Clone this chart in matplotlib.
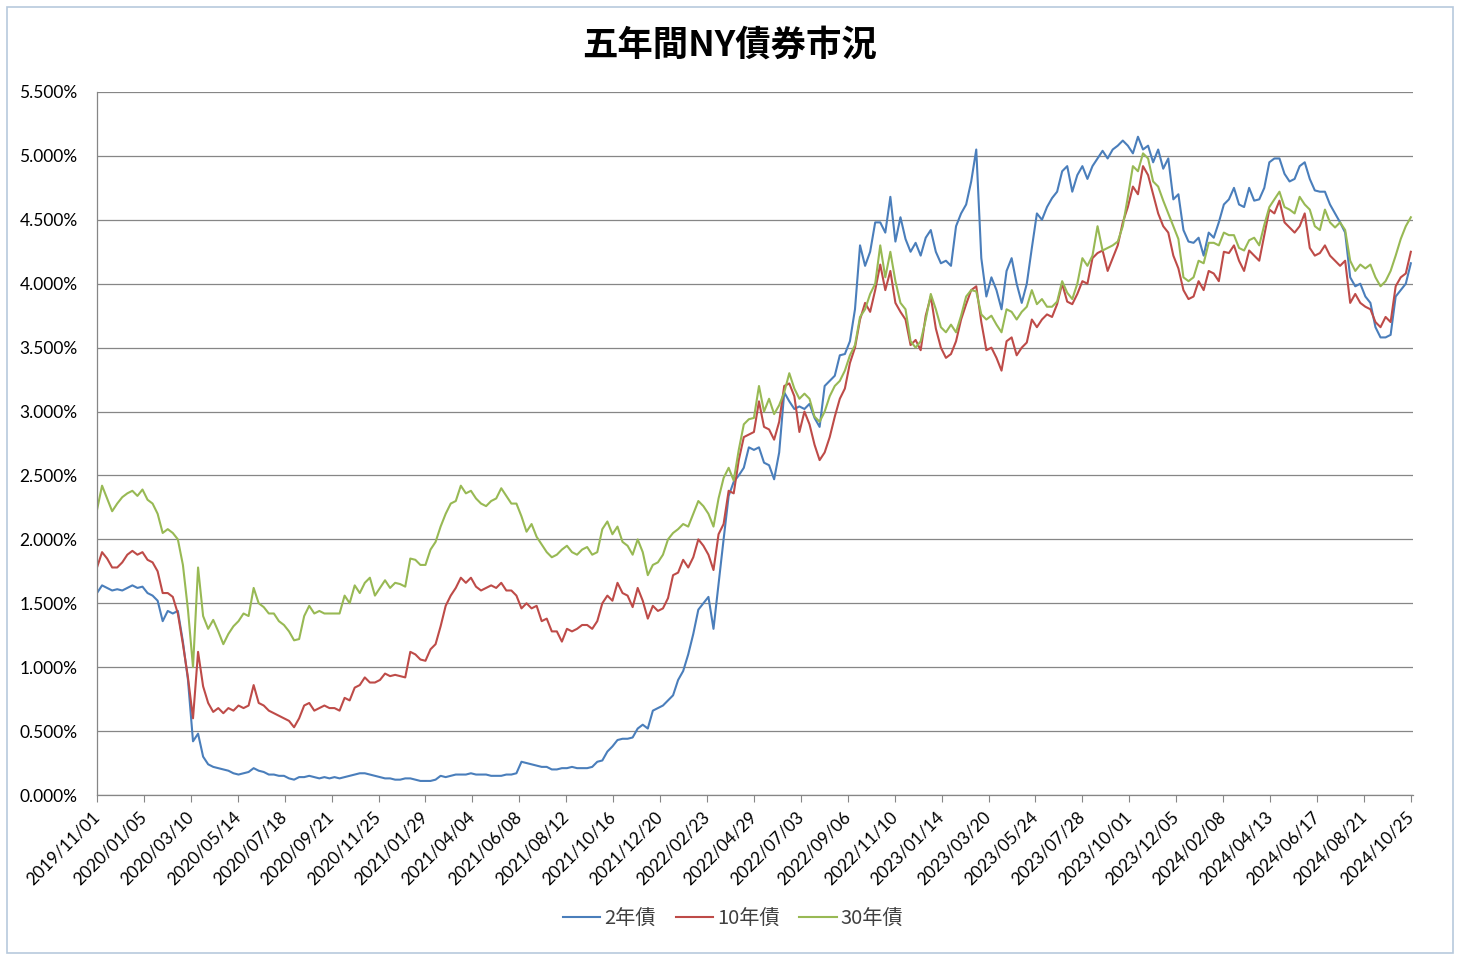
import numpy as np
import pandas as pd
import matplotlib
matplotlib.use("Agg")
import matplotlib.pyplot as plt
import matplotlib.dates as mdates
from matplotlib.ticker import MultipleLocator, FuncFormatter
from matplotlib.patches import Rectangle

##
## Data (weekly readings, % yield)
##
start_date = "2019-11-01"
title_text = "五年間NY債券市況"
series_names = ["2年債", "10年債", "30年債"]

yield_2y = [
    1.58, 1.64, 1.62, 1.60, 1.61, 1.60, 1.62, 1.64, 1.62, 1.63,
    1.58, 1.56, 1.52, 1.36, 1.44, 1.42, 1.44, 1.20, 0.90, 0.42,
    0.48, 0.30, 0.24, 0.22, 0.21, 0.20, 0.19, 0.17, 0.16, 0.17,
    0.18, 0.21, 0.19, 0.18, 0.16, 0.16, 0.15, 0.15, 0.13, 0.12,
    0.14, 0.14, 0.15, 0.14, 0.13, 0.14, 0.13, 0.14, 0.13, 0.14,
    0.15, 0.16, 0.17, 0.17, 0.16, 0.15, 0.14, 0.13, 0.13, 0.12,
    0.12, 0.13, 0.13, 0.12, 0.11, 0.11, 0.11, 0.12, 0.15, 0.14,
    0.15, 0.16, 0.16, 0.16, 0.17, 0.16, 0.16, 0.16, 0.15, 0.15,
    0.15, 0.16, 0.16, 0.17, 0.26, 0.25, 0.24, 0.23, 0.22, 0.22,
    0.20, 0.20, 0.21, 0.21, 0.22, 0.21, 0.21, 0.21, 0.22, 0.26,
    0.27, 0.34, 0.38, 0.43, 0.44, 0.44, 0.45, 0.52, 0.55, 0.52,
    0.66, 0.68, 0.70, 0.74, 0.78, 0.90, 0.97, 1.10, 1.26, 1.45,
    1.50, 1.55, 1.30, 1.65, 2.00, 2.34, 2.45, 2.50, 2.56, 2.72,
    2.70, 2.72, 2.60, 2.58, 2.47, 2.68, 3.15, 3.08, 3.02, 3.04,
    3.02, 3.06, 2.95, 2.88, 3.20, 3.24, 3.28, 3.44, 3.45, 3.55,
    3.80, 4.30, 4.14, 4.25, 4.48, 4.48, 4.40, 4.68, 4.33, 4.52,
    4.35, 4.25, 4.32, 4.22, 4.36, 4.42, 4.25, 4.16, 4.18, 4.14,
    4.45, 4.55, 4.62, 4.80, 5.05, 4.20, 3.90, 4.05, 3.95, 3.80,
    4.10, 4.20, 4.00, 3.85, 4.00, 4.28, 4.55, 4.50, 4.60, 4.67,
    4.72, 4.88, 4.92, 4.72, 4.85, 4.92, 4.82, 4.92, 4.98, 5.04,
    4.98, 5.05, 5.08, 5.12, 5.08, 5.02, 5.15, 5.05, 5.08, 4.95,
    5.05, 4.90, 4.98, 4.66, 4.70, 4.42, 4.33, 4.32, 4.36, 4.22,
    4.40, 4.36, 4.48, 4.62, 4.66, 4.75, 4.62, 4.60, 4.75, 4.65,
    4.66, 4.75, 4.95, 4.98, 4.98, 4.86, 4.80, 4.82, 4.92, 4.95,
    4.82, 4.73, 4.72, 4.72, 4.62, 4.55, 4.48, 4.40, 4.05, 3.98,
    4.00, 3.90, 3.85, 3.66, 3.58, 3.58, 3.60, 3.90, 3.95, 4.00,
    4.16,
]

yield_10y = [
    1.78, 1.90, 1.85, 1.78, 1.78, 1.82, 1.88, 1.91, 1.88, 1.90,
    1.84, 1.82, 1.75, 1.58, 1.58, 1.55, 1.42, 1.18, 0.92, 0.60,
    1.12, 0.85, 0.72, 0.65, 0.68, 0.64, 0.68, 0.66, 0.70, 0.68,
    0.70, 0.86, 0.72, 0.70, 0.66, 0.64, 0.62, 0.60, 0.58, 0.53,
    0.60, 0.70, 0.72, 0.66, 0.68, 0.70, 0.68, 0.68, 0.66, 0.76,
    0.74, 0.84, 0.86, 0.92, 0.88, 0.88, 0.90, 0.95, 0.93, 0.94,
    0.93, 0.92, 1.12, 1.10, 1.06, 1.05, 1.14, 1.18, 1.32, 1.48,
    1.56, 1.62, 1.70, 1.66, 1.70, 1.63, 1.60, 1.62, 1.64, 1.62,
    1.66, 1.60, 1.60, 1.56, 1.46, 1.50, 1.46, 1.48, 1.36, 1.38,
    1.28, 1.28, 1.20, 1.30, 1.28, 1.30, 1.33, 1.33, 1.30, 1.36,
    1.50, 1.56, 1.52, 1.66, 1.58, 1.56, 1.47, 1.62, 1.52, 1.38,
    1.48, 1.44, 1.46, 1.54, 1.72, 1.74, 1.84, 1.78, 1.86, 2.00,
    1.95, 1.88, 1.76, 2.04, 2.12, 2.38, 2.36, 2.62, 2.80, 2.82,
    2.84, 3.08, 2.88, 2.86, 2.78, 2.92, 3.20, 3.22, 3.12, 2.84,
    3.00, 2.90, 2.74, 2.62, 2.68, 2.80, 2.96, 3.10, 3.18, 3.38,
    3.50, 3.72, 3.85, 3.78, 3.95, 4.15, 3.95, 4.10, 3.85, 3.78,
    3.72, 3.52, 3.56, 3.48, 3.75, 3.90, 3.65, 3.50, 3.42, 3.45,
    3.55, 3.72, 3.84, 3.95, 3.98, 3.70, 3.48, 3.50, 3.42, 3.32,
    3.55, 3.58, 3.44, 3.50, 3.54, 3.72, 3.66, 3.72, 3.76, 3.74,
    3.84, 4.00, 3.86, 3.84, 3.92, 4.02, 4.00, 4.20, 4.24, 4.26,
    4.10, 4.20, 4.30, 4.48, 4.60, 4.76, 4.70, 4.92, 4.85, 4.70,
    4.55, 4.45, 4.40, 4.22, 4.12, 3.95, 3.88, 3.90, 4.02, 3.95,
    4.10, 4.08, 4.02, 4.25, 4.24, 4.30, 4.18, 4.10, 4.26, 4.22,
    4.18, 4.38, 4.58, 4.55, 4.65, 4.48, 4.44, 4.40, 4.45, 4.55,
    4.28, 4.22, 4.24, 4.30, 4.22, 4.18, 4.14, 4.18, 3.85, 3.92,
    3.85, 3.82, 3.80, 3.70, 3.66, 3.74, 3.70, 3.98, 4.05, 4.08,
    4.25,
]

yield_30y = [
    2.23, 2.42, 2.32, 2.22, 2.28, 2.33, 2.36, 2.38, 2.34, 2.39,
    2.31, 2.28, 2.20, 2.05, 2.08, 2.05, 2.00, 1.80, 1.45, 1.00,
    1.78, 1.40, 1.30, 1.37, 1.28, 1.18, 1.26, 1.32, 1.36, 1.42,
    1.40, 1.62, 1.50, 1.47, 1.42, 1.42, 1.36, 1.33, 1.28, 1.21,
    1.22, 1.40, 1.48, 1.42, 1.44, 1.42, 1.42, 1.42, 1.42, 1.56,
    1.50, 1.64, 1.58, 1.66, 1.70, 1.56, 1.62, 1.68, 1.62, 1.66,
    1.65, 1.63, 1.85, 1.84, 1.80, 1.80, 1.92, 1.98, 2.10, 2.20,
    2.28, 2.30, 2.42, 2.36, 2.38, 2.32, 2.28, 2.26, 2.30, 2.32,
    2.40, 2.34, 2.28, 2.28, 2.18, 2.06, 2.12, 2.02, 1.96, 1.90,
    1.86, 1.88, 1.92, 1.95, 1.90, 1.88, 1.92, 1.94, 1.88, 1.90,
    2.08, 2.14, 2.04, 2.10, 1.98, 1.95, 1.88, 2.00, 1.90, 1.72,
    1.80, 1.82, 1.88, 2.00, 2.05, 2.08, 2.12, 2.10, 2.20, 2.30,
    2.26, 2.20, 2.10, 2.32, 2.48, 2.56, 2.46, 2.70, 2.90, 2.94,
    2.95, 3.20, 3.00, 3.10, 2.98, 3.05, 3.15, 3.30, 3.18, 3.10,
    3.14, 3.10, 2.96, 2.92, 3.00, 3.12, 3.20, 3.24, 3.32, 3.44,
    3.52, 3.74, 3.80, 3.92, 4.00, 4.30, 4.05, 4.25, 4.02, 3.85,
    3.80, 3.55, 3.50, 3.55, 3.72, 3.92, 3.80, 3.66, 3.62, 3.68,
    3.62, 3.75, 3.90, 3.95, 3.94, 3.76, 3.72, 3.75, 3.68, 3.62,
    3.80, 3.78, 3.72, 3.78, 3.82, 3.95, 3.84, 3.88, 3.82, 3.82,
    3.86, 4.02, 3.93, 3.88, 4.00, 4.20, 4.14, 4.22, 4.45, 4.26,
    4.28, 4.30, 4.33, 4.45, 4.68, 4.92, 4.88, 5.02, 4.98, 4.80,
    4.76, 4.65, 4.55, 4.45, 4.35, 4.05, 4.02, 4.05, 4.18, 4.16,
    4.32, 4.32, 4.30, 4.40, 4.38, 4.38, 4.28, 4.26, 4.34, 4.36,
    4.30, 4.46, 4.60, 4.66, 4.72, 4.60, 4.58, 4.55, 4.68, 4.62,
    4.58, 4.45, 4.42, 4.58, 4.48, 4.44, 4.48, 4.42, 4.18, 4.10,
    4.15, 4.12, 4.15, 4.05, 3.98, 4.02, 4.10, 4.22, 4.35, 4.45,
    4.52,
]

colors = ["#4A7EBB", "#BE4B48", "#98B954"]

dates = pd.date_range(start_date, periods=len(yield_2y), freq="7D")
tick_dates = pd.date_range(start_date, periods=29, freq="65D")

plt.rcParams["font.family"] = ["Lato", "Noto Sans CJK JP", "DejaVu Sans"]

fig = plt.figure(figsize=(14.6, 9.6), dpi=100)
ax = fig.add_axes([97 / 1460, 1 - 795 / 960, (1413 - 97) / 1460, (795 - 92) / 960])

for vals, name, c in zip([yield_2y, yield_10y, yield_30y], series_names, colors):
    ax.plot(dates, vals, color=c, lw=1.5, label=name)

ax.set_ylim(0, 5.5)
ax.yaxis.set_major_locator(MultipleLocator(0.5))
ax.yaxis.set_major_formatter(FuncFormatter(lambda v, p: "%.3f%%" % v))
ax.grid(axis="y", color="#868686", lw=0.9)
ax.set_axisbelow(True)

ax.set_xlim(tick_dates[0], tick_dates[-1] + pd.Timedelta(days=3))
ax.set_xticks(tick_dates)
ax.xaxis.set_major_formatter(mdates.DateFormatter("%Y/%m/%d"))
plt.setp(ax.get_xticklabels(), rotation=45, ha="right", va="center",
         rotation_mode="anchor", fontsize=12.5)
ax.tick_params(axis="x", length=5, color="#868686", pad=9)
ax.tick_params(axis="y", length=0, pad=14, labelsize=12.5)

for s in ["top", "right"]:
    ax.spines[s].set_visible(False)
for s in ["left", "bottom"]:
    ax.spines[s].set_color("#868686")
    ax.spines[s].set_linewidth(0.9)

fig.text(730 / 1460, 1 - 45 / 960, title_text, ha="center", va="center",
         fontsize=25.5, fontweight="bold", family=["Noto Sans CJK JP", "DejaVu Sans"])

leg = fig.legend(loc="center", bbox_to_anchor=(733 / 1460, 1 - 919 / 960), ncol=3,
                 frameon=False, handlelength=1.85, handletextpad=0.2, columnspacing=1.0,
                 prop={"family": ["Noto Sans CJK JP", "DejaVu Sans"], "size": 14.5})
for t in leg.get_texts():
    t.set_color("#404040")

# chart frame
fig.patches.append(Rectangle((7 / 1460, 7 / 960), 1446 / 1460, 946 / 960,
                             transform=fig.transFigure, fill=False,
                             edgecolor="#B7C9DD", lw=1.2))

fig.savefig("out.png", dpi=100)
